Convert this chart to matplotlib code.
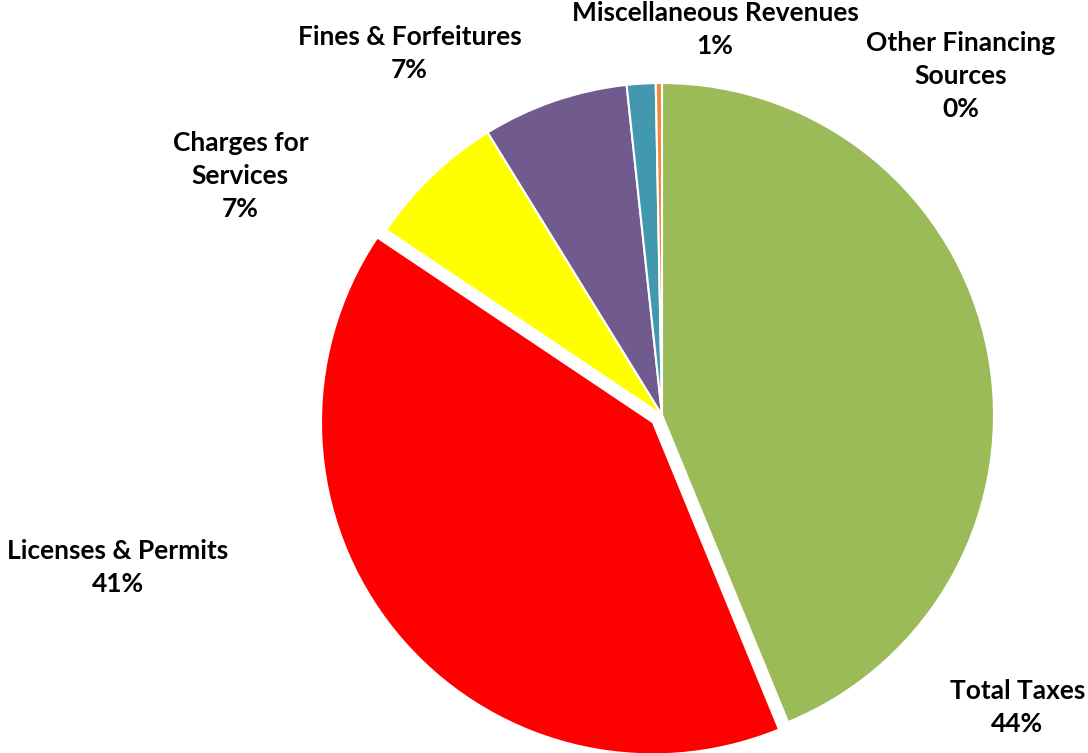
import matplotlib
matplotlib.use("Agg")
import matplotlib.pyplot as plt

# revenue sources, clockwise from 12 o'clock
labels = ["Total Taxes", "Licenses & Permits", "Charges for\nServices",
          "Fines & Forfeitures", "Miscellaneous Revenues", "Other Financing\nSources"]
values = [43.8, 40.6, 6.8, 7.1, 1.4, 0.3]
colors = ["#9BBB59", "#FF0000", "#FFFF00", "#715A8E", "#4198AF", "#F08A3B"]
explode = [0, 0.035, 0, 0, 0, 0]

# where each data label sits (pie radius = 1, centre at 0,0)
label_pos = [(1.07, -0.88), (-1.64, -0.46), (-1.27, 0.72),
             (-0.76, 1.09), (0.16, 1.16), (0.90, 1.02)]

plt.rcParams['font.family'] = ['Lato', 'DejaVu Sans']

fig = plt.figure(figsize=(10.88, 7.53), dpi=100)
ax = fig.add_axes([0, 0, 1, 1])

wedges, _ = ax.pie(values, colors=colors, explode=explode, startangle=90,
                   counterclock=False, radius=1.0,
                   wedgeprops=dict(edgecolor="white", linewidth=1.5))

total = sum(values)
for lab, v, (x, y) in zip(labels, values, label_pos):
    ax.text(x, y, f"{lab}\n{round(v / total * 100):.0f}%", ha="center", va="center",
            fontsize=19, fontweight="bold", color="black", linespacing=1.45)

s = 332.0
ax.set_xlim(-662 / s, (1088 - 662) / s)
ax.set_ylim(-(753 - 415) / s, 415 / s)
ax.set_aspect("equal")
ax.axis("off")

fig.savefig("out.png", dpi=100)
